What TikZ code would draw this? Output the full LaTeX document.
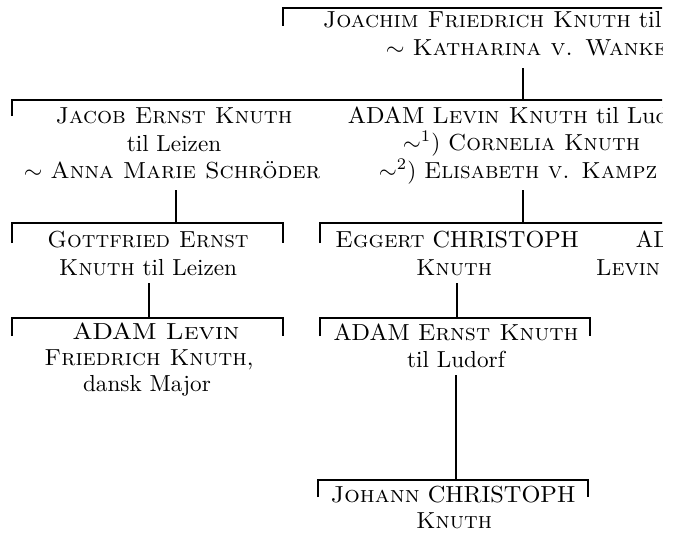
\documentclass[tikz,border=0pt]{standalone}
\usepackage{fontspec}
\usepackage{graphicx}
\newcommand{\Tx}[2][1]{\scalebox{\fpeval{2.32*#1}}[2.32]{#2}}
\begin{document}
\begin{tikzpicture}[x=1pt,y=-1pt,line width=1.7pt,
  txt/.style={anchor=base,inner sep=0pt,font=\fontsize{10}{12}\selectfont},
  txtl/.style={txt,anchor=base west}]
\useasboundingbox (0,0) rectangle (679,535);
\clip (0,0) rectangle (662,535);
% level 0
\draw (283,26) -- (283,8) -- (700,8);
\node[txtl] (j1) at (322,28) {\Tx[1.025]{\textsc{Joachim Friedrich Knuth} til}};
\node[txtl] (j2) at (385,56) {\Tx[1.04]{$\sim$ \textsc{Katharina v. Wanke}}};
\coordinate (j0) at (523,68);
\coordinate (b1) at (523,100);
\draw (j0) -- (b1);
% level 1
\draw (12,116) -- (12,100) -- (700,100);
\node[txt] (a1) at (174,123) {\Tx[1.02]{\textsc{Jacob Ernst Knuth}}};
\node[txt] (a2) at (174,151) {\Tx{til Leizen}};
\node[txt] (a3) at (172,178) {\Tx[1.03]{$\sim$ \textsc{Anna Marie Schröder}}};
\node[txtl] (l1) at (347,123) {\Tx[1.045]{ADAM \textsc{Levin Knuth} til Ludorf}};
\node[txtl] (l2) at (402,150) {\Tx{$\sim^{1}$) \textsc{Cornelia Knuth}}};
\node[txtl] (l3) at (378,178) {\Tx{$\sim^{2}$) \textsc{Elisabeth v. Kampz}}};
\coordinate (a0) at (176,190);
\coordinate (b2) at (176,223);
\draw (a0) -- (b2);
\coordinate (l0) at (523,190);
\coordinate (b3) at (523,223);
\draw (l0) -- (b3);
% level 2 left
\draw (12,243) -- (12,223) -- (283,223) -- (283,243);
\node[txt] (g1) at (148,247) {\Tx{\textsc{Gottfried Ernst}}};
\node[txt] (g2) at (148,275) {\Tx{\textsc{Knuth} til Leizen}};
\coordinate (g0) at (149,283);
\coordinate (b4) at (149,318);
\draw (g0) -- (b4);
% level 3 left
\draw (12,336) -- (12,318) -- (283,318) -- (283,336);
\node[txt] (f1) at (156,339) {\Tx[1.15]{ADAM \textsc{Levin}}};
\node[txt] (f2) at (149,365) {\Tx[1.02]{\textsc{Friedrich Knuth},}};
\node[txt] (f3) at (147,391) {\Tx{dansk Major}};
% level 2 right
\draw (320,243) -- (320,223) -- (700,223);
\node[txt] (e1) at (457,247) {\Tx[1.04]{\textsc{Eggert} CHRISTOPH}};
\node[txt] (e2) at (454,275) {\Tx{\textsc{Knuth}}};
\node[txtl] (m1) at (635,247) {\Tx{ADAM}};
\node[txtl] (m2) at (595,275) {\Tx{\textsc{Levin}}};
\coordinate (e0) at (457,283);
\coordinate (b5) at (457,318);
\draw (e0) -- (b5);
% level 3 right
\draw (320,336) -- (320,318) -- (590,318) -- (590,336);
\node[txt] (d1) at (456,340) {\Tx[1.04]{ADAM \textsc{Ernst Knuth}}};
\node[txt] (d2) at (456,367) {\Tx{til Ludorf}};
\coordinate (d0) at (456,375);
\coordinate (b6) at (456,480);
\draw (d0) -- (b6);
% level 4
\draw (318,497) -- (318,480) -- (588,480) -- (588,497);
\node[txt] (h1) at (453,502) {\Tx[1.05]{\textsc{Johann} CHRISTOPH}};
\node[txt] (h2) at (454,528) {\Tx{\textsc{Knuth}}};
\end{tikzpicture}
\end{document}
